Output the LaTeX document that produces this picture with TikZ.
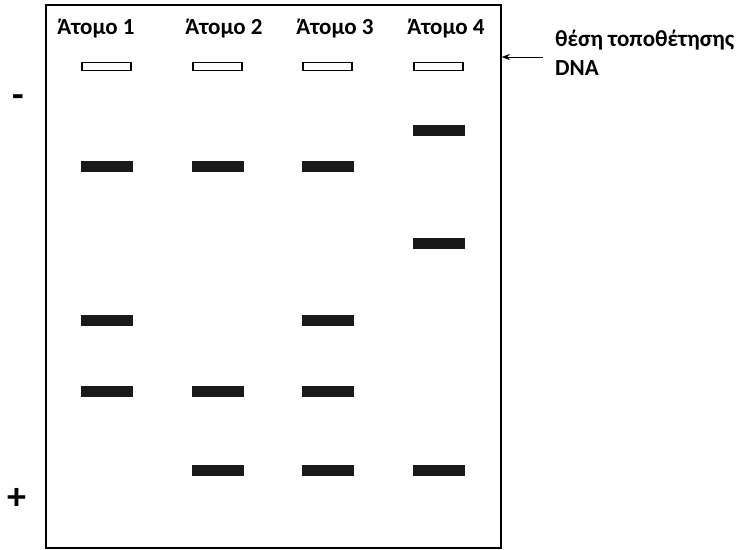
\documentclass[tikz,border=0pt]{standalone}
\usepackage{fontspec}
\setmainfont{Carlito}
\usetikzlibrary{arrows.meta,positioning}

\begin{document}
\begin{tikzpicture}[x=1pt,y=-1pt,
  lanelabel/.style={font=\fontsize{23}{29}\selectfont\bfseries},
  well/.style={draw,line width=1.4pt,minimum width=49pt,minimum height=8pt,inner sep=0pt},
  band/.style={fill=black!90,minimum width=52pt,minimum height=11pt,inner sep=0pt},
  pole/.style={font=\fontsize{38}{38}\selectfont\bfseries,inner sep=0pt}]
  \useasboundingbox (0,0) rectangle (746,549);

  % Gel
  \node[draw,line width=1.6pt,minimum width=455pt,minimum height=543pt,inner sep=0pt] (gel) at (273.5,276.5) {};

  % Lanes with their wells
  \foreach \i/\x/\lx in {1/106.5/96,2/217.5/224,3/327.5/335,4/438.5/446} {
    \node[lanelabel] (label\i) at (\lx,29) {Άτομο \i};
    \node[well] (well\i) at (\x,66.5) {};
  }

  % Bands
  \foreach \i/\x/\y in {1/106.5/166,1/106.5/320,1/106.5/391,
                        2/217.5/166,2/217.5/391,2/217.5/470,
                        3/327.5/166,3/327.5/320,3/327.5/391,3/327.5/470,
                        4/438.5/130,4/438.5/243,4/438.5/470}
    \node[band] (band\i-\y) at (\x,\y) {};

  % Poles
  \node[pole] (minus) at (18,101) {-};
  \node[pole] (plus) at (17,499) {+};

  % Loading position
  \node[lanelabel,anchor=west,align=left,inner sep=0pt] (loadlabel) at (555,53) {θέση τοποθέτησης\\DNA};
  \coordinate (loadtail) at (543,57);
  \draw[-{Stealth[length=8pt,width=6pt]}] (loadtail) -- (gel.east |- loadtail);
\end{tikzpicture}
\end{document}
